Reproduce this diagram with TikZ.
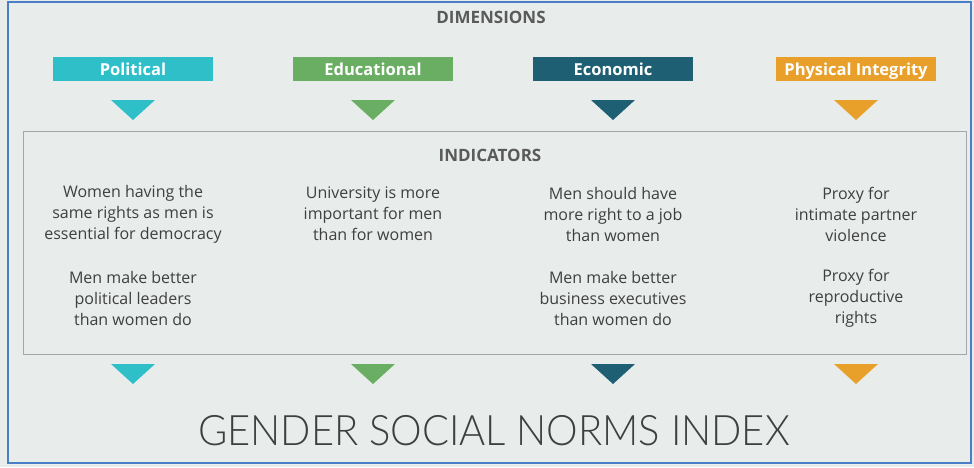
\documentclass[tikz,border=0pt]{standalone}
\usepackage{fontspec}
\setmainfont{Open Sans}
\newfontfamily\thinfont{Lato Light}
\usetikzlibrary{positioning}

\definecolor{polcol}{HTML}{2FBFC9}
\definecolor{educol}{HTML}{6AAE63}
\definecolor{ecocol}{HTML}{1E5F74}
\definecolor{phycol}{HTML}{E9A02A}
\definecolor{bgcol}{HTML}{E8ECEB}
\definecolor{framecol}{HTML}{4A7FC8}
\definecolor{boxline}{HTML}{A3A7A7}
\definecolor{txtgray}{HTML}{3F3F3F}
\definecolor{headgray}{HTML}{5A5A5A}

\tikzset{
  dimbox/.style={fill=#1, minimum width=160pt, minimum height=24pt, inner sep=0pt,
    text height=15pt, text depth=3pt,
    text=white, font=\bfseries\fontsize{16.5}{18}\selectfont},
  heading/.style={text=headgray, font=\bfseries\fontsize{17}{19}\selectfont},
  indtext/.style={align=center, text=txtgray, inner sep=0pt,
    font=\fontsize{16}{21}\selectfont},
}

\begin{document}
\begin{tikzpicture}[x=1pt, y=-1pt]
  \useasboundingbox (0,0) rectangle (974,467);
  \fill[bgcol] (0,0) rectangle (974,467);
  \draw[framecol, line width=2pt] (8,2) rectangle (971,463);

  \node[heading] (dims) at (491,17) {DIMENSIONS};

  % dimension boxes
  \node[dimbox=polcol] (pol) at (133,69) {Political};
  \node[dimbox=educol] (edu) at (373,69) {Educational};
  \node[dimbox=ecocol] (eco) at (613,69) {Economic};
  \node[dimbox=phycol] (phy) at (856,69) {Physical Integrity};

  % triangles above and below the indicators
  \foreach \x/\c in {133/polcol, 373/educol, 613/ecocol, 856/phycol} {
    \fill[\c] ({\x-22},100) -- ({\x+22},100) -- (\x,120) -- cycle;
    \fill[\c] ({\x-22},364) -- ({\x+22},364) -- (\x,384) -- cycle;
  }

  \draw[boxline, line width=1pt] (23,131) rectangle (966,354);
  \node[heading] (inds) at (490,155) {INDICATORS};

  % indicators
  \node[indtext] (pola) at (133,214) {Women having the\\same rights as men is\\essential for democracy};
  \node[indtext] (polb) at (133,298) {Men make better\\political leaders\\than women do};
  \node[indtext] (edua) at (373,214) {University is more\\important for men\\than for women};
  \node[indtext] (ecoa) at (613,214) {Men should have\\more right to a job\\than women};
  \node[indtext] (ecob) at (613,298) {Men make better\\business executives\\than women do};
  \node[indtext] (phya) at (856,214) {Proxy for\\intimate partner\\violence};
  \node[indtext] (phyb) at (856,298) {Proxy for\\reproductive\\rights};

  \node[text=txtgray, font=\thinfont\fontsize{42}{46}\selectfont] (gsni) at (494,431)
    {\scalebox{0.95}[1]{GENDER SOCIAL NORMS INDEX}};
\end{tikzpicture}
\end{document}
